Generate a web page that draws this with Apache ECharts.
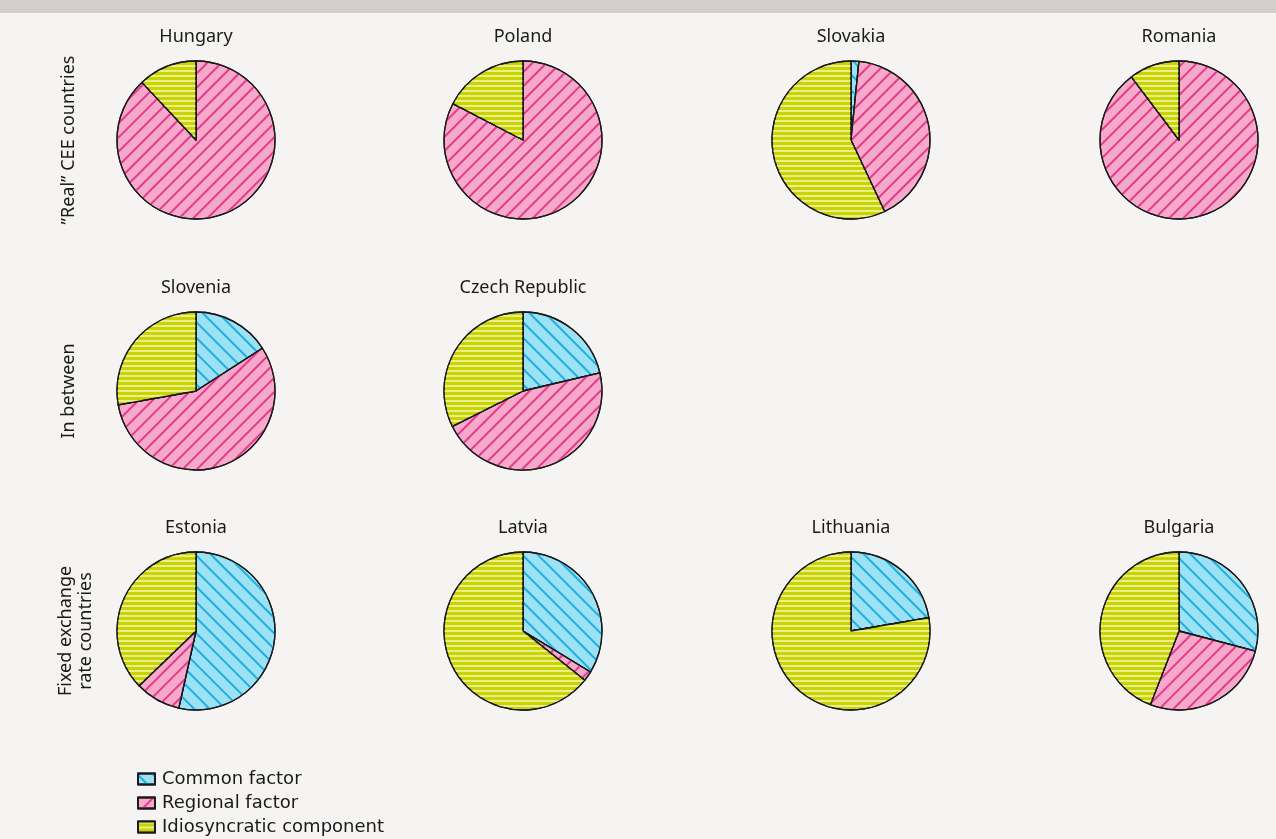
<!DOCTYPE html>
<html>
<head>
<meta charset="utf-8">
<script src="https://cdn.jsdelivr.net/npm/echarts@6/dist/echarts.min.js"></script>
<style>
  html, body { margin: 0; padding: 0; background: #f5f4f2; }
  #chart { width: 1276px; height: 839px; }
</style>
</head>
<body>
<div id="chart"></div>
<script>
(function() {
	'use strict';

	// data (share of variance, %)
	var countries = ['Hungary', 'Poland', 'Slovakia', 'Romania', 'Slovenia', 'Czech Republic', 'Estonia', 'Latvia', 'Lithuania', 'Bulgaria'];
	var common = [0, 0, 1.6, 0, 15.9, 21.3, 53.5, 33.7, 22.3, 29.1];
	var regional = [88, 82.6, 41.4, 89.7, 56.3, 46.3, 9.3, 2.0, 0, 26.8];
	var idiosyncratic = [12, 17.4, 57, 10.3, 27.8, 32.4, 37.2, 64.3, 77.7, 44.1];
	var components = ['Common factor', 'Regional factor', 'Idiosyncratic component'];
	var groups = ['\u201DReal\u201D CEE countries', 'In between', 'Fixed exchange\nrate countries'];

	// layout: column / row of each pie
	var colX = [196, 523, 851, 1179];
	var rowY = [140, 391, 631];
	var slots = [[0, 0], [1, 0], [2, 0], [3, 0], [0, 1], [1, 1], [0, 2], [1, 2], [2, 2], [3, 2]];
	var labelX = [69, 69, 76];
	var R = 79;

	var styles = [
		{ color: '#9de1f4', decal: { symbol: 'rect', symbolSize: 1, color: '#1eafe0', dashArrayX: [1, 0], dashArrayY: [2, 8.5], rotation: Math.PI / 4 } },
		{ color: '#f6a9cb', decal: { symbol: 'rect', symbolSize: 1, color: '#e53a8a', dashArrayX: [1, 0], dashArrayY: [2, 7.5], rotation: -Math.PI / 4 } },
		{ color: '#c9d400', decal: { symbol: 'rect', symbolSize: 1, color: '#e9ee90', dashArrayX: [1, 0], dashArrayY: [2, 2.4], rotation: 0 } }
	];

	var series = [];
	var titles = [];
	countries.forEach(function(c, i) {
		var cx = colX[slots[i][0]];
		var cy = rowY[slots[i][1]];
		var vals = [common[i], regional[i], idiosyncratic[i]];
		series.push({
			name: c,
			type: 'pie',
			center: [cx, cy],
			radius: [0, R],
			startAngle: 90,
			clockwise: true,
			silent: true,
			label: { show: false },
			labelLine: { show: false },
			emphasis: { disabled: true },
			animation: false,
			data: components.map(function(n, k) {
				return {
					name: n,
					value: vals[k],
					itemStyle: {
						color: styles[k].color,
						decal: styles[k].decal,
						borderColor: '#1a1a1a',
						borderWidth: 1.3
					}
				};
			})
		});
		titles.push({
			text: c,
			left: cx,
			top: cy - R - 33,
			padding: 0,
			textAlign: 'center',
			textStyle: { fontFamily: 'Noto Sans', fontSize: 18, fontWeight: 'normal', color: '#1a1a1a' }
		});
	});

	var graphics = [
		{ type: 'rect', left: 0, top: 0, shape: { width: 1276, height: 13 }, style: { fill: '#d3cecb' } }
	];
	groups.forEach(function(g, r) {
		graphics.push({
			type: 'text',
			x: labelX[r],
			y: rowY[r],
			rotation: Math.PI / 2,
			style: {
				text: g,
				fill: '#1a1a1a',
				font: '18px "Noto Sans"',
				align: 'center',
				verticalAlign: 'middle',
				lineHeight: 20
			}
		});
	});

	var option = {
		backgroundColor: '#f5f4f2',
		title: titles,
		legend: {
			data: components,
			orient: 'vertical',
			left: 137,
			top: 770,
			padding: 0,
			height: 69,
			icon: 'rect',
			itemWidth: 17,
			itemHeight: 11,
			itemGap: 6,
			selectedMode: false,
			textStyle: { fontFamily: 'DejaVu Sans', fontSize: 18, lineHeight: 18, color: '#1a1a1a', padding: [0, 0, 0, 2] }
		},
		graphic: graphics,
		series: series
	};

	var chart = echarts.init(document.getElementById('chart'));
	chart.setOption(option);
})();
</script>
</body>
</html>
